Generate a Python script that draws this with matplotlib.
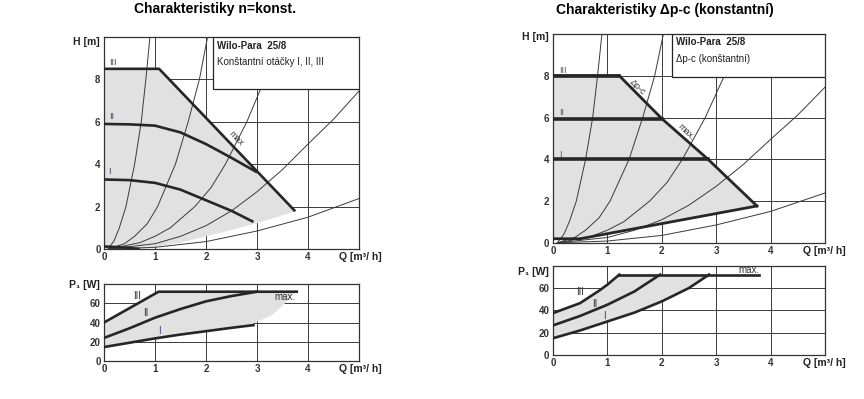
import matplotlib
matplotlib.use('Agg')
import matplotlib.pyplot as plt
import numpy as np
from matplotlib.patches import Rectangle

plt.rcParams['font.family'] = ['Liberation Sans', 'DejaVu Sans']

# --- head curves, n = const (left) ---
q_III = [0, 1.08, 3.75]
h_III = [8.5, 8.5, 1.78]
q_II = [0, 0.5, 1.0, 1.5, 2.0, 2.5, 3.0]
h_II = [5.9, 5.88, 5.82, 5.5, 4.95, 4.3, 3.62]
q_I = [0, 0.5, 1.0, 1.5, 2.0, 2.5, 2.93]
h_I = [3.28, 3.25, 3.12, 2.8, 2.3, 1.8, 1.28]
q_low = [0, 0.7, 1.5, 2.0, 2.5, 3.0, 3.72]
h_low = [0, 0, 0.3, 0.6, 0.9, 1.22, 1.75]
q_min = [0, 0.35, 0.7]
h_min = [0.12, 0.08, 0.0]

# --- head curves, dp-c (right) ---
q_max_c = [1.22, 2.0, 2.85, 3.75]
h_max_c = [8.0, 5.95, 4.0, 1.76]
q_lev = [1.22, 2.0, 2.85]
h_lev = [8.0, 5.95, 4.0]
q_bot_c = [0, 0.5, 3.75]
h_bot_c = [0.19, 0.19, 1.76]

# --- system curves (same on both) ---
sys_curves = [
    ([0.08, 0.2, 0.3, 0.43, 0.6, 0.73, 0.82, 0.9], [0, 0.4, 1, 2, 4, 6, 8, 10]),
    ([0.08, 0.4, 0.6, 0.85, 1.05, 1.4, 1.65, 1.87, 2.03], [0, 0.25, 0.6, 1.2, 2, 4, 6, 8, 10]),
    ([0.1, 0.7, 1.0, 1.3, 1.78, 2.1, 2.38, 2.8, 3.15], [0, 0.3, 0.6, 1, 2, 2.9, 4, 6, 8]),
    ([0.1, 1, 1.5, 2, 2.5, 3, 3.5, 4, 4.5, 5], [0, 0.25, 0.6, 1.1, 1.8, 2.7, 3.75, 4.95, 6.12, 7.45]),
    ([0.1, 1, 2, 3, 4, 5], [0, 0.08, 0.35, 0.85, 1.5, 2.38]),
]

# --- power, n = const (left) ---
pq_III = [0, 1.07, 3.78]
pw_III = [40, 72, 72]
pq_II = [0, 0.5, 1.0, 1.5, 2.0, 2.5, 3.0]
pw_II = [24, 34, 45, 54, 62, 67.5, 72]
pq_I = [0, 0.5, 1.0, 1.5, 2.0, 2.5, 2.93]
pw_I = [14.5, 19, 23.5, 27.5, 31, 34.5, 37.3]
pq_edge = [2.93, 3.3, 3.55, 3.75]
pw_edge = [39, 48, 60, 71]

# --- power, dp-c (right) ---
rq_III = [0, 0.5, 0.86, 1.0, 1.22]
rw_III = [37.5, 46.5, 58, 63, 72]
rq_top = [1.22, 3.78]
rw_top = [72, 72]
rq_II = [0, 0.5, 1.0, 1.5, 1.97]
rw_II = [26.5, 35, 45, 57, 72]
rq_I = [0, 0.5, 1.0, 1.5, 2.0, 2.5, 2.87]
rw_I = [15, 22, 30, 38, 48, 60, 72]

x_ticks = [0, 1, 2, 3, 4]
h_ticks = [0, 2, 4, 6, 8]
p_ticks = [0, 20, 40, 60]

THICK = '#262626'
GRAY = '#e1e1e1'
LBL = '#4a3d5c'


def setup(ax, ymax, yticks, ylabel, ylab_y):
    ax.set_xlim(0, 5)
    ax.set_ylim(0, ymax)
    ax.set_xticks(x_ticks)
    ax.set_yticks(yticks)
    ax.grid(True, color='#3a3a3a', lw=0.7, zorder=1)
    ax.set_axisbelow(True)
    ax.tick_params(length=0, pad=2.5, labelsize=7, labelcolor='#333333')
    for lab in ax.get_xticklabels() + ax.get_yticklabels():
        lab.set_fontweight('bold')
    for s in ax.spines.values():
        s.set_color('#333333')
        s.set_linewidth(0.9)
    ax.text(-0.015, ylab_y, ylabel, transform=ax.transAxes, ha='right',
            va='center', fontsize=7.5, fontweight='bold', color='#222222')
    ax.annotate('Q [m³/ h]', xy=(4.6, 0), xycoords=('data', 'axes fraction'),
                xytext=(0, -8), textcoords='offset pixels', ha='left',
                va='center', fontsize=7.5, fontweight='bold', color='#222222',
                annotation_clip=False)


def info_box(ax, x0, y0, line2):
    ax.add_patch(Rectangle((x0, y0), 5 - x0, 10 - y0, fc='white',
                           ec='#222222', lw=0.9, zorder=6))
    ax.text(x0 + 0.08, 9.6, 'Wilo-Para  25/8', fontsize=7,
            fontweight='bold', color='#222222', va='center', zorder=7)
    ax.text(x0 + 0.08, 8.8, line2, fontsize=7, color='#222222',
            va='center', zorder=7)


def draw_sys(ax):
    for q, h in sys_curves:
        ax.plot(q, h, color='#3a3a3a', lw=0.7, zorder=4)


fig = plt.figure(figsize=(8.64, 3.99), dpi=100)

fig.text(215 / 864, 1 - 9 / 399, 'Charakteristiky n=konst.', ha='center',
         va='center', fontsize=10, fontweight='bold')
fig.text(665 / 864, 1 - 10 / 399, 'Charakteristiky Δp-c (konstantní)',
         ha='center', va='center', fontsize=10, fontweight='bold')

# left top
ax = fig.add_axes([0.1204, 0.3759, 0.2951, 0.5313])
setup(ax, 10, h_ticks, 'H [m]', 0.978)
ax.fill(np.concatenate([q_III, q_low[::-1]]),
        np.concatenate([h_III, h_low[::-1]]), color=GRAY, lw=0, zorder=2)
draw_sys(ax)
for q, h in [(q_III, h_III), (q_II, h_II), (q_I, h_I), (q_min, h_min)]:
    ax.plot(q, h, color=THICK, lw=1.9, zorder=5, solid_capstyle='butt')
info_box(ax, 2.14, 7.55, 'Konštantní otáčky I, II, III')
ax.text(0.1, 8.8, 'III', fontsize=6.5, color=LBL, va='center')
ax.text(0.1, 6.25, 'II', fontsize=6.5, color=LBL, va='center')
ax.text(0.08, 3.67, 'I', fontsize=6.5, color=LBL, va='center')
ax.text(2.6, 5.2, 'max', fontsize=6.5, color='#333333', rotation=-46,
        ha='center', va='center', zorder=6)

# left bottom
ax = fig.add_axes([0.1204, 0.0952, 0.2951, 0.1930])
setup(ax, 80, p_ticks, 'P₁ [W]', 0.99)
up_q = pq_III
up_w = pw_III
lo_q = pq_I + pq_edge
lo_w = pw_I + pw_edge
ax.fill(np.concatenate([up_q, lo_q[::-1]]), np.concatenate([up_w, lo_w[::-1]]),
        color=GRAY, lw=0, zorder=2)
for q, w in [(pq_III, pw_III), (pq_II, pw_II), (pq_I, pw_I)]:
    ax.plot(q, w, color=THICK, lw=1.9, zorder=5)
ax.text(0.64, 68, 'III', fontsize=7, color='#333333', ha='center', va='center')
ax.text(0.82, 50, 'II', fontsize=7, color='#333333', ha='center', va='center')
ax.text(1.08, 31, 'I', fontsize=7, color='#3b4a8a', ha='center', va='center')
ax.text(3.35, 67, 'max.', fontsize=7, color='#333333', va='center')

# right top
ax = fig.add_axes([0.6400, 0.3917, 0.3148, 0.5230])
setup(ax, 10, h_ticks, 'H [m]', 0.987)
ax.fill(np.concatenate([[0], q_max_c, q_bot_c[::-1]]),
        np.concatenate([[8.0], h_max_c, h_bot_c[::-1]]), color=GRAY, lw=0, zorder=2)
draw_sys(ax)
ax.plot(np.concatenate([[0], q_max_c]), np.concatenate([[8.0], h_max_c]),
        color=THICK, lw=2.0, zorder=5)
for q, h in zip(q_lev, h_lev):
    ax.plot([0, q], [h, h], color=THICK, lw=2.6, zorder=5)
ax.plot(q_bot_c, h_bot_c, color=THICK, lw=2.0, zorder=5)
info_box(ax, 2.18, 7.92, 'Δp-c (konštantní)')
ax.text(0.12, 8.25, 'III', fontsize=6.5, color='#555555', va='center')
ax.text(0.12, 6.25, 'II', fontsize=6.5, color='#555555', va='center')
ax.text(0.12, 4.25, 'I', fontsize=6.5, color='#555555', va='center')
ax.text(1.55, 7.45, 'Δp-c', fontsize=6.5, color='#333333', rotation=-44,
        ha='center', va='center', zorder=6)
ax.text(2.45, 5.3, 'max.', fontsize=6.5, color='#333333', rotation=-44,
        ha='center', va='center', zorder=6)

# right bottom
ax = fig.add_axes([0.6400, 0.1103, 0.3148, 0.2238])
setup(ax, 80, p_ticks, 'P₁ [W]', 0.93)
ax.fill(np.concatenate([rq_III, [rq_I[-1]], rq_I[::-1]]),
        np.concatenate([rw_III, [rw_I[-1]], rw_I[::-1]]), color=GRAY, lw=0, zorder=2)
for q, w in [(rq_III, rw_III), (rq_top, rw_top), (rq_II, rw_II), (rq_I, rw_I)]:
    ax.plot(q, w, color=THICK, lw=1.9, zorder=5)
ax.text(0.5, 56, 'III', fontsize=7, color='#333333', ha='center', va='center')
ax.text(0.77, 46, 'II', fontsize=7, color='#333333', ha='center', va='center')
ax.text(0.95, 34.5, 'I', fontsize=7, color='#4a3d5c', ha='center', va='center')
ax.text(3.4, 76.5, 'max.', fontsize=7, color='#333333', va='center')

fig.savefig('out.png', dpi=100)
